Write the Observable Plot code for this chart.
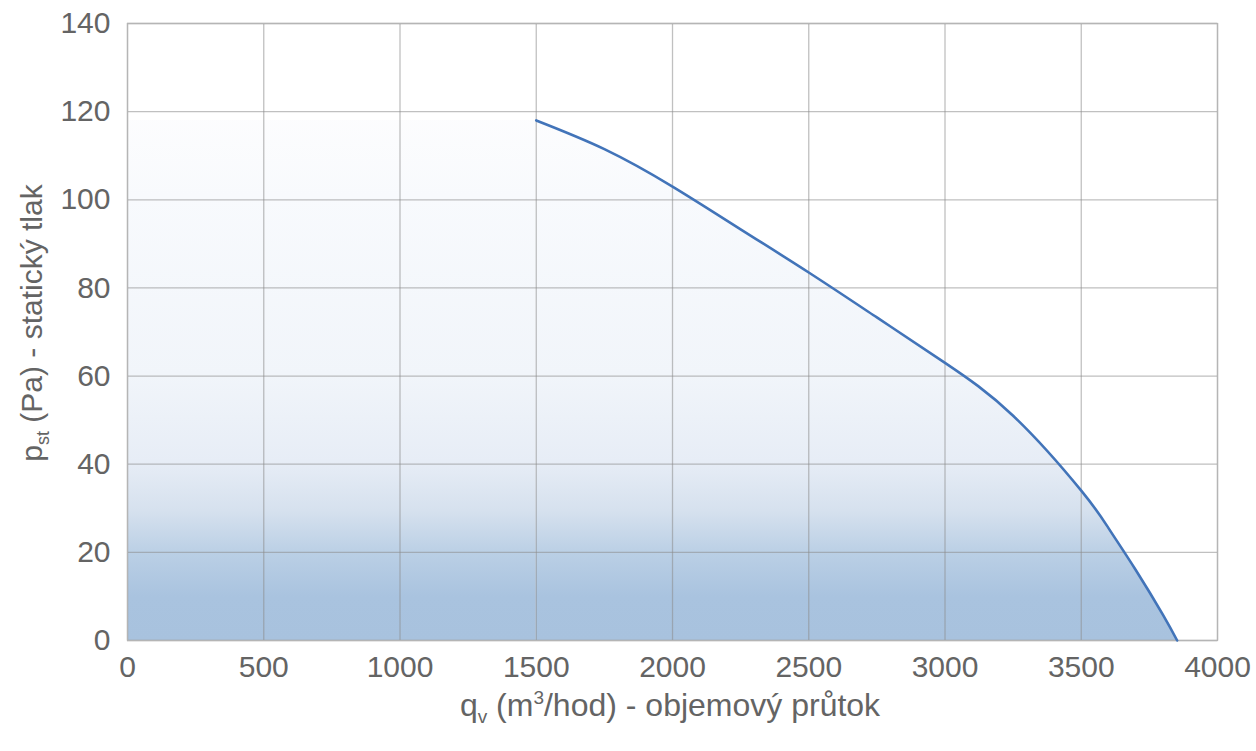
<!DOCTYPE html>
<html>
<head>
<meta charset="utf-8">
<script src="https://cdn.jsdelivr.net/npm/d3@7"></script>
<script src="https://cdn.jsdelivr.net/npm/@observablehq/plot@0.6"></script>
<style>
  html, body { margin: 0; padding: 0; background: #fff; }
  #chart svg { display: block; }
</style>
</head>
<body>
<div id="chart"></div>
<script>
// Curve data (q_v m3/hod, p_st Pa)
const flow = [1500, 1750, 2000, 2250, 2500, 2750, 3000, 3250, 3500, 3600, 3700, 3800, 3852];
const pressure = [118, 111.5, 103, 93.3, 83.5, 73.3, 63, 51, 34, 25.5, 16, 5.8, 0];
// Fill extends flat to the left of the curve start
const leftFlow = [0, 1500];
const leftPressure = [118, 118];
const xTicks = [0, 500, 1000, 1500, 2000, 2500, 3000, 3500, 4000];
const yTicks = [0, 20, 40, 60, 80, 100, 120, 140];

const curveData = flow.map((x, i) => ({x, y: pressure[i]}));
const leftData = leftFlow.map((x, i) => ({x, y: leftPressure[i]}));

const W = 1256, H = 751;
const font = "'Liberation Sans', Arial, sans-serif";
const textColor = "#646464";

const plot = Plot.plot({
  width: W,
  height: H,
  marginLeft: 127,
  marginRight: 39,
  marginTop: 23,
  marginBottom: 111,
  style: {fontFamily: font, color: textColor, background: "#fff"},
  x: {domain: [0, 4000], label: null},
  y: {domain: [0, 140], label: null},
  marks: [
    Plot.areaY(leftData, {x: "x", y: "y", fill: "url(#bgGrad)"}),
    Plot.areaY(curveData, {x: "x", y: "y", curve: "natural", fill: "url(#bgGrad)"}),
    Plot.gridX(xTicks, {stroke: "#8c8c8c", strokeOpacity: 0.55, strokeWidth: 1.3}),
    Plot.gridY(yTicks, {stroke: "#8c8c8c", strokeOpacity: 0.55, strokeWidth: 1.3}),
    Plot.frame({stroke: "#b5b5b5", strokeWidth: 1.3}),
    Plot.line(curveData, {x: "x", y: "y", curve: "natural", stroke: "#4274b9", strokeWidth: 2.6}),
    Plot.axisX({ticks: xTicks, tickSize: 0, tickPadding: 15, fill: textColor, fontSize: 30, tickFormat: d => String(d), label: null}),
    Plot.axisY({ticks: yTicks, tickSize: 0, tickPadding: 17, fill: textColor, fontSize: 30, tickFormat: d => String(d), label: null})
  ]
});

const svg = d3.select(plot);
const ys = plot.scale("y");
const defs = svg.insert("defs", ":first-child");
const grad = defs.append("linearGradient")
  .attr("id", "bgGrad")
  .attr("gradientUnits", "userSpaceOnUse")
  .attr("x1", 0).attr("x2", 0)
  .attr("y1", ys.apply(140)).attr("y2", ys.apply(0));
const stops = [
  [0, "#ffffff"],
  [0.14, "#fdfdfe"],
  [0.28, "#f8fafd"],
  [0.57, "#f1f5fa"],
  [0.71, "#e7edf6"],
  [0.79, "#d6e1ee"],
  [0.86, "#bacfe5"],
  [0.93, "#a9c3df"],
  [1, "#a8c2de"]
];
stops.forEach(([o, c]) => grad.append("stop").attr("offset", o).attr("stop-color", c));

// X axis label with superscript and subscript
const xl = svg.append("text")
  .attr("x", 670).attr("y", 716)
  .attr("text-anchor", "middle")
  .attr("fill", textColor)
  .style("font-family", font).style("font-size", "32px");
xl.append("tspan").text("q");
xl.append("tspan").attr("dy", 7).style("font-size", "19px").text("v");
xl.append("tspan").attr("dy", -7).text(" (m");
xl.append("tspan").attr("dy", -12).style("font-size", "19px").text("3");
xl.append("tspan").attr("dy", 12).text("/hod) - objemový průtok");

// Y axis label (rotated)
const yl = svg.append("text")
  .attr("transform", "translate(42,323) rotate(-90)")
  .attr("text-anchor", "middle")
  .attr("fill", textColor)
  .style("font-family", font).style("font-size", "30px");
yl.append("tspan").text("p");
yl.append("tspan").attr("dy", 7).style("font-size", "18px").text("st");
yl.append("tspan").attr("dy", -7).text(" (Pa) - statický tlak");

document.getElementById("chart").appendChild(plot);
</script>
</body>
</html>
